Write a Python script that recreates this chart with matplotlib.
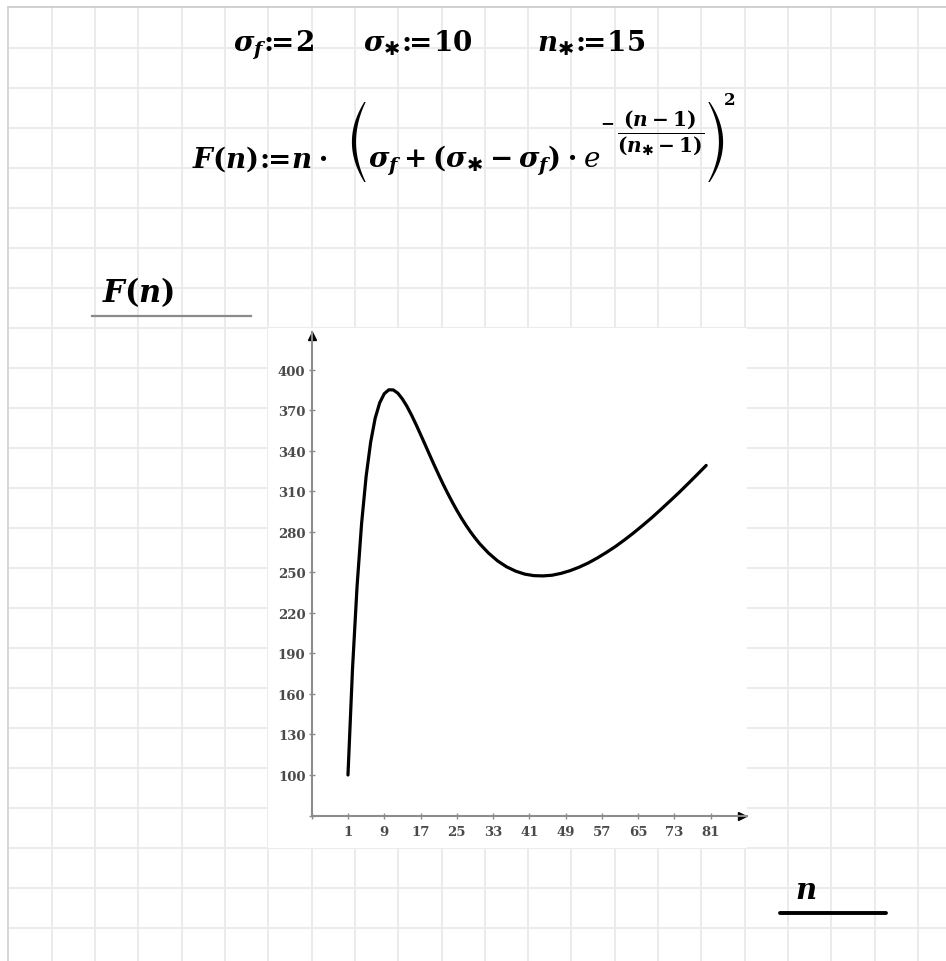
import numpy as np
import matplotlib
matplotlib.use("Agg")
import matplotlib.pyplot as plt
from matplotlib.patches import Rectangle

plt.rcParams["mathtext.fontset"] = "custom"
plt.rcParams["mathtext.rm"] = "DejaVu Serif:bold"
plt.rcParams["mathtext.bf"] = "DejaVu Serif:bold"
plt.rcParams["mathtext.it"] = "DejaVu Serif:bold:italic"
plt.rcParams["mathtext.sf"] = "DejaVu Serif:italic"
plt.rcParams["mathtext.tt"] = "DejaVu Sans:bold"

# sampled values of F(n), sigma_f = 2, sigma_* = 10, n_* = 15
n_vals = [1, 2, 3, 4, 5, 6, 7, 8, 9, 10, 11, 12, 13, 14, 15, 16, 17, 18, 19, 20,
          21, 22, 23, 24, 25, 26, 27, 28, 29, 30, 32, 34, 36, 38, 40, 42, 44, 46,
          48, 50, 52, 54, 56, 58, 60, 62, 64, 66, 68, 70, 72, 74, 76, 78, 80]
F_vals = [100.0, 178.6, 239.5, 286.1, 321.0, 346.4, 364.2, 375.6, 382.3, 385.2,
          385.1, 382.7, 378.4, 373.0, 366.6, 359.6, 352.2, 344.7, 337.1, 329.6,
          322.3, 315.2, 308.5, 302.1, 296.0, 290.3, 285.0, 280.1, 275.6, 271.4,
          264.3, 258.5, 254.1, 250.9, 248.7, 247.6, 247.4, 247.9, 249.3, 251.3,
          253.9, 257.0, 260.7, 264.8, 269.2, 274.1, 279.3, 284.8, 290.5, 296.6,
          302.8, 309.1, 315.7, 322.4, 329.2]

x_ticks = [1, 9, 17, 25, 33, 41, 49, 57, 65, 73, 81]
y_ticks = [100, 130, 160, 190, 220, 250, 280, 310, 340, 370, 400]
x_min, x_max = -7, 89
y_min, y_max = 70, 428

W, H = 946, 962
fig = plt.figure(figsize=(W / 100, H / 100), dpi=100)

# worksheet background in pixel units
bg = fig.add_axes([0, 0, 1, 1])
bg.set_xlim(0, W)
bg.set_ylim(H, 0)
bg.axis("off")

grid_c = "#ebebeb"
for gx in np.arange(8.5 + 43.3, W, 43.3):
    bg.plot([gx, gx], [8, H], color=grid_c, lw=1.4, zorder=1)
for gy in np.arange(9 + 40, H, 40):
    bg.plot([8, W], [gy, gy], color=grid_c, lw=1.4, zorder=1)
bg.plot([8, W], [8, 8], color="#c8c8c8", lw=1.2, zorder=2)
bg.plot([8, 8], [8, H], color="#d0d0d0", lw=1.2, zorder=2)

# white plot region
bg.add_patch(Rectangle((268, 329), 479, 520, facecolor="white",
                       edgecolor="none", zorder=3))


def big_paren(xa, xb, ya, yb, side):
    # tall bracket drawn as a filled crescent
    t = np.linspace(-1, 1, 80)
    y = (ya + yb) / 2 + t * (yb - ya) / 2
    th = 1.4 + 2.8 * (1 - t ** 2)
    bow = (xb - xa - 4) * t ** 2
    if side == "left":
        xc = xa + 2 + bow
    else:
        xc = xb - 2 - bow
    bg.fill(np.r_[xc - th / 2, (xc + th / 2)[::-1]], np.r_[y, y[::-1]],
            color="black", lw=0, zorder=5)


star = "\\mathtt{\u2731}"
fs = 20
bg.text(233, 52, r"$\sigma_f\!:\!\!\!=\!2$", fontsize=fs, zorder=5)
bg.text(363, 52, r"$\sigma_{%s}\!:\!\!\!=\!10$" % star, fontsize=fs, zorder=5)
bg.text(537, 52, r"$n_{%s}\!:\!\!\!=\!15$" % star, fontsize=fs, zorder=5)

# F(n) definition, assembled piece by piece
bg.text(192, 168, r"$F(n)\!:\!\!\!=\!n\cdot$", fontsize=fs, zorder=5)
big_paren(352, 367, 103, 183, "left")
bg.text(368, 168, r"$\sigma_f+(\sigma_{%s}-\sigma_f)\cdot \mathsf{e}$" % star,
        fontsize=fs, zorder=5)
bg.text(600, 122, r"$-$", fontsize=12, va="center", zorder=5)
bg.text(617, 133, r"$\dfrac{(n-1)}{(n_{%s}-1)}$" % star, fontsize=14.5,
        va="center", zorder=5)
big_paren(707, 723, 103, 183, "right")
bg.text(723, 105, r"$2$", fontsize=12, zorder=5)

bg.text(102, 302, r"$F(n)$", fontsize=22, zorder=5)
bg.plot([92, 251], [317, 317], color="#8a8a8a", lw=1.6, zorder=5)
bg.text(795, 899, r"$n$", fontsize=21, zorder=5)
bg.plot([780, 886], [914, 914], color="black", lw=2.8,
        solid_capstyle="round", zorder=5)

# plot area
left, right, top, bottom = 311.7, 747.0, 333.0, 816.5
ax = fig.add_axes([left / W, 1 - bottom / H, (right - left) / W,
                   (bottom - top) / H])
ax.patch.set_alpha(0)
ax.set_xlim(x_min, x_max)
ax.set_ylim(y_min, y_max)

ax.plot(n_vals, F_vals, color="black", lw=2.3, solid_capstyle="round",
        zorder=4)

axis_c = "#8c8c8c"
for side in ("top", "right"):
    ax.spines[side].set_visible(False)
for side in ("left", "bottom"):
    ax.spines[side].set_color(axis_c)
    ax.spines[side].set_linewidth(1.5)

ax.plot([x_min], [y_max - 3], marker="^", color="black", ms=6, clip_on=False)
ax.plot([x_max - 1], [y_min], marker=">", color="black", ms=6, clip_on=False)

ax.set_xticks([x_min] + x_ticks)
ax.set_xticklabels([""] + [str(v) for v in x_ticks])
ax.set_yticks([y_min] + y_ticks)
ax.set_yticklabels([""] + [str(v) for v in y_ticks])
ax.tick_params(direction="inout", length=5, width=1.0, color=axis_c,
               labelcolor="#4a4a4a", labelsize=9.5)
ax.tick_params(axis="x", pad=4)
ax.tick_params(axis="y", pad=2)
for lab in ax.get_xticklabels() + ax.get_yticklabels():
    lab.set_fontfamily("DejaVu Serif")
    lab.set_fontweight("bold")

fig.savefig("out.png", dpi=100)
